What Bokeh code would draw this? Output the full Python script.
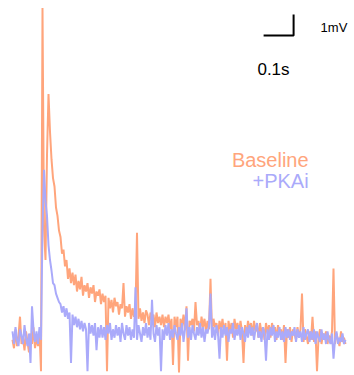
import numpy as np
from bokeh.plotting import figure
from bokeh.embed import file_html
from bokeh.resources import INLINE
from bokeh.models import Range1d
from bokeh.core.properties import value

# ---- data (mV, sampled every 5 ms) ----
DT = 0.005
baseline_mv = [
    -0.3, -0.7, 0.2, -0.6, -0.1, 0.8, -0.5, -0.2, -0.8, 0.1,
    -0.4, -0.9, 0.0, -0.5, 0.3, -0.7, -0.2, -0.6, 0.1, -1.8,
    15.5, 5.0, 3.5, 8.5, 11.4, 9.6, 8.3, 7.4, 7.0, 6.0,
    5.6, 4.9, 4.6, 3.8, 4.0, 3.2, 3.5, 2.6, 3.1, 2.4,
    2.9, 2.3, 2.8, 2.0, 2.5, 2.1, 2.7, 1.8, 2.3, 2.0,
    2.4, 1.7, 2.2, 1.9, 2.3, 1.5, 2.0, 1.8, 2.1, 1.4,
    1.9, 1.5, 1.8, -1.8, 1.7, 1.2, 1.6, 1.0, 1.7, 1.3,
    1.5, 0.9, 1.4, 1.2, 2.4, 0.8, 1.3, 1.0, 1.4, 0.7,
    1.2, 0.8, 1.1, 4.8, 0.7, 1.2, 0.6, 1.0, 0.5, 1.1,
    0.9, 0.4, 1.0, 0.6, 0.9, 0.3, 1.0, 0.5, 0.8, 0.4,
    0.9, 0.3, 0.8, 0.5, 0.9, 0.2, 0.7, -1.5, 0.8, 0.3,
    0.8, -1.85, 0.7, 0.3, 0.9, 0.2, 1.3, -1.3, 0.6, 0.4,
    0.7, 0.1, 1.5, 0.4, 0.6, 0.0, 0.8, 0.3, 0.7, 0.1,
    0.6, 0.2, 2.6, 0.1, 0.7, 0.3, 0.5, -0.1, 0.6, 0.2,
    0.7, 0.0, 0.5, -1.3, 0.6, 0.1, 0.5, -0.2, 0.7, 0.2,
    0.5, 0.0, 0.6, 0.1, -1.4, 0.4, -0.1, 0.6, 0.2, 0.5,
    -0.1, 0.6, 0.1, 0.4, -0.2, 0.5, 0.0, 0.3, -0.3, 0.5,
    0.0, 0.4, -0.2, 0.5, 0.1, 0.3, -0.3, 0.4, 0.0, 0.2,
    -0.3, 0.4, -1.4, 0.2, -0.2, 0.3, -0.4, 0.2, 0.0, -0.3,
    0.3, -0.2, 0.2, 1.9, -0.4, 0.2, -0.1, -0.5, 0.1, -0.3,
    0.8, -0.4, 0.1, -1.8, -0.2, 0.2, -0.5, 0.0, -0.3, 0.1,
    -0.5, -0.1, -0.4, 0.1, 3.1, -0.5, 0.0, -0.3, -0.6, 0.1,
    -0.4, -0.2, -0.5,
]
pkai_mv = [
    0.1, -0.5, 0.3, -0.3, -0.6, 0.2, -0.1, -0.5, 0.4, -0.2,
    -0.6, 0.0, -1.4, 1.3, 0.2, -0.4, 0.1, -0.5, 0.3, -0.3,
    5.0, 7.8, 6.3, 5.6, 4.2, 3.5, 3.0, 2.4, 2.3, 1.9,
    1.7, 1.5, 1.4, 1.0, 1.3, 0.8, 1.2, 0.7, 1.0, -1.4,
    0.9, 0.4, 0.8, 0.3, 0.7, 0.2, 0.6, 0.1, 0.5, 0.2,
    -1.8, 0.5, 0.0, 0.4, -0.1, 0.5, -0.8, 0.3, -0.2, 0.4,
    -0.2, 0.3, -0.3, 0.4, 0.0, 0.5, -0.3, 0.2, -0.2, 0.4,
    -0.1, 0.3, -0.4, 0.5, 0.0, -0.3, 0.4, -0.1, 0.3, -0.3,
    0.2, -0.2, 2.2, -0.3, 0.4, 0.0, -0.4, 0.3, -0.1, 0.5,
    -0.2, 0.3, -0.3, 1.6, 0.0, -0.4, 0.4, -0.1, 0.3, -1.8,
    0.2, -0.3, 0.4, -0.1, 0.5, -0.3, 0.2, -0.2, 0.4, 0.0,
    -0.3, 0.3, -0.1, 0.5, -0.4, 0.2, 1.2, -0.2, 0.3, -0.3,
    0.4, 0.0, -0.3, 0.3, -0.1, 0.5, -0.2, 0.3, -0.4, 0.2,
    0.0, 0.4, 1.9, -0.2, 0.3, -0.3, 0.4, 0.0, -1.2, 0.3,
    -0.2, 0.4, -0.1, 0.3, -0.4, 0.2, 0.0, 0.5, -0.3, 0.2,
    -0.1, 0.4, -0.3, 0.3, 0.0, -0.4, 0.3, -0.2, 0.4, -0.1,
    0.3, -0.3, 0.2, 0.5, -0.2, 0.1, -0.4, 0.3, 0.0, -1.3,
    0.2, -0.3, 0.3, -0.1, 0.4, -0.4, 0.1, -0.2, 0.3, -0.3,
    0.1, -0.4, 0.3, -0.2, 0.2, -0.3, 0.1, -0.1, 0.3, -0.4,
    0.2, -0.2, 0.1, -0.4, 0.3, -0.3, 0.0, 0.2, -0.4, 0.1,
    -0.3, 0.2, -0.5, 0.1, -0.2, -0.4, 0.2, -0.3, 0.0, -0.5,
    0.1, -0.3, -0.5, 0.0, -1.2, -0.3, 0.1, -0.5, -0.2, -0.4,
    0.0, -0.5, -0.3,
]
series_labels = ["Baseline", "+PKAi"]
series_colors = ["#FFA57C", "#AAAAFA"]

# scale bar: 0.1 s by 1 mV
scalebar_t = [0.837, 0.937]
scalebar_v = [14.19, 15.19]
scalebar_labels = ["0.1s", "1mV"]

time_s = np.arange(len(baseline_mv)) * DT

p = figure(width=354, height=375, output_backend="svg", toolbar_location=None,
           x_range=Range1d(-0.04, 1.14), y_range=Range1d(-2.0, 15.857),
           min_border=0)
p.axis.visible = False
p.xgrid.visible = False
p.ygrid.visible = False
p.outline_line_color = None
p.background_fill_color = "white"

p.line(time_s, baseline_mv, line_color=series_colors[0], line_width=2)
p.line(time_s, pkai_mv, line_color=series_colors[1], line_width=2)

# scale bar
p.line([scalebar_t[0], scalebar_t[1], scalebar_t[1]],
       [scalebar_v[0], scalebar_v[0], scalebar_v[1]],
       line_color="black", line_width=2)

font = value("Liberation Sans")
p.text(x=[0.87], y=[12.57], text=[scalebar_labels[0]], text_font=font,
       text_font_size="17px", text_color="black", text_align="center",
       text_baseline="alphabetic")
p.text(x=[1.027], y=[14.57], text=[scalebar_labels[1]], text_font=font,
       text_font_size="13px", text_color="black", text_align="left",
       text_baseline="alphabetic")

# legend labels
p.text(x=[0.987, 0.987], y=[8.24, 7.24], text=series_labels, text_font=font,
       text_font_size="20px", text_color=series_colors, text_align="right",
       text_baseline="alphabetic")

open("out.html", "w").write(file_html(p, INLINE))
